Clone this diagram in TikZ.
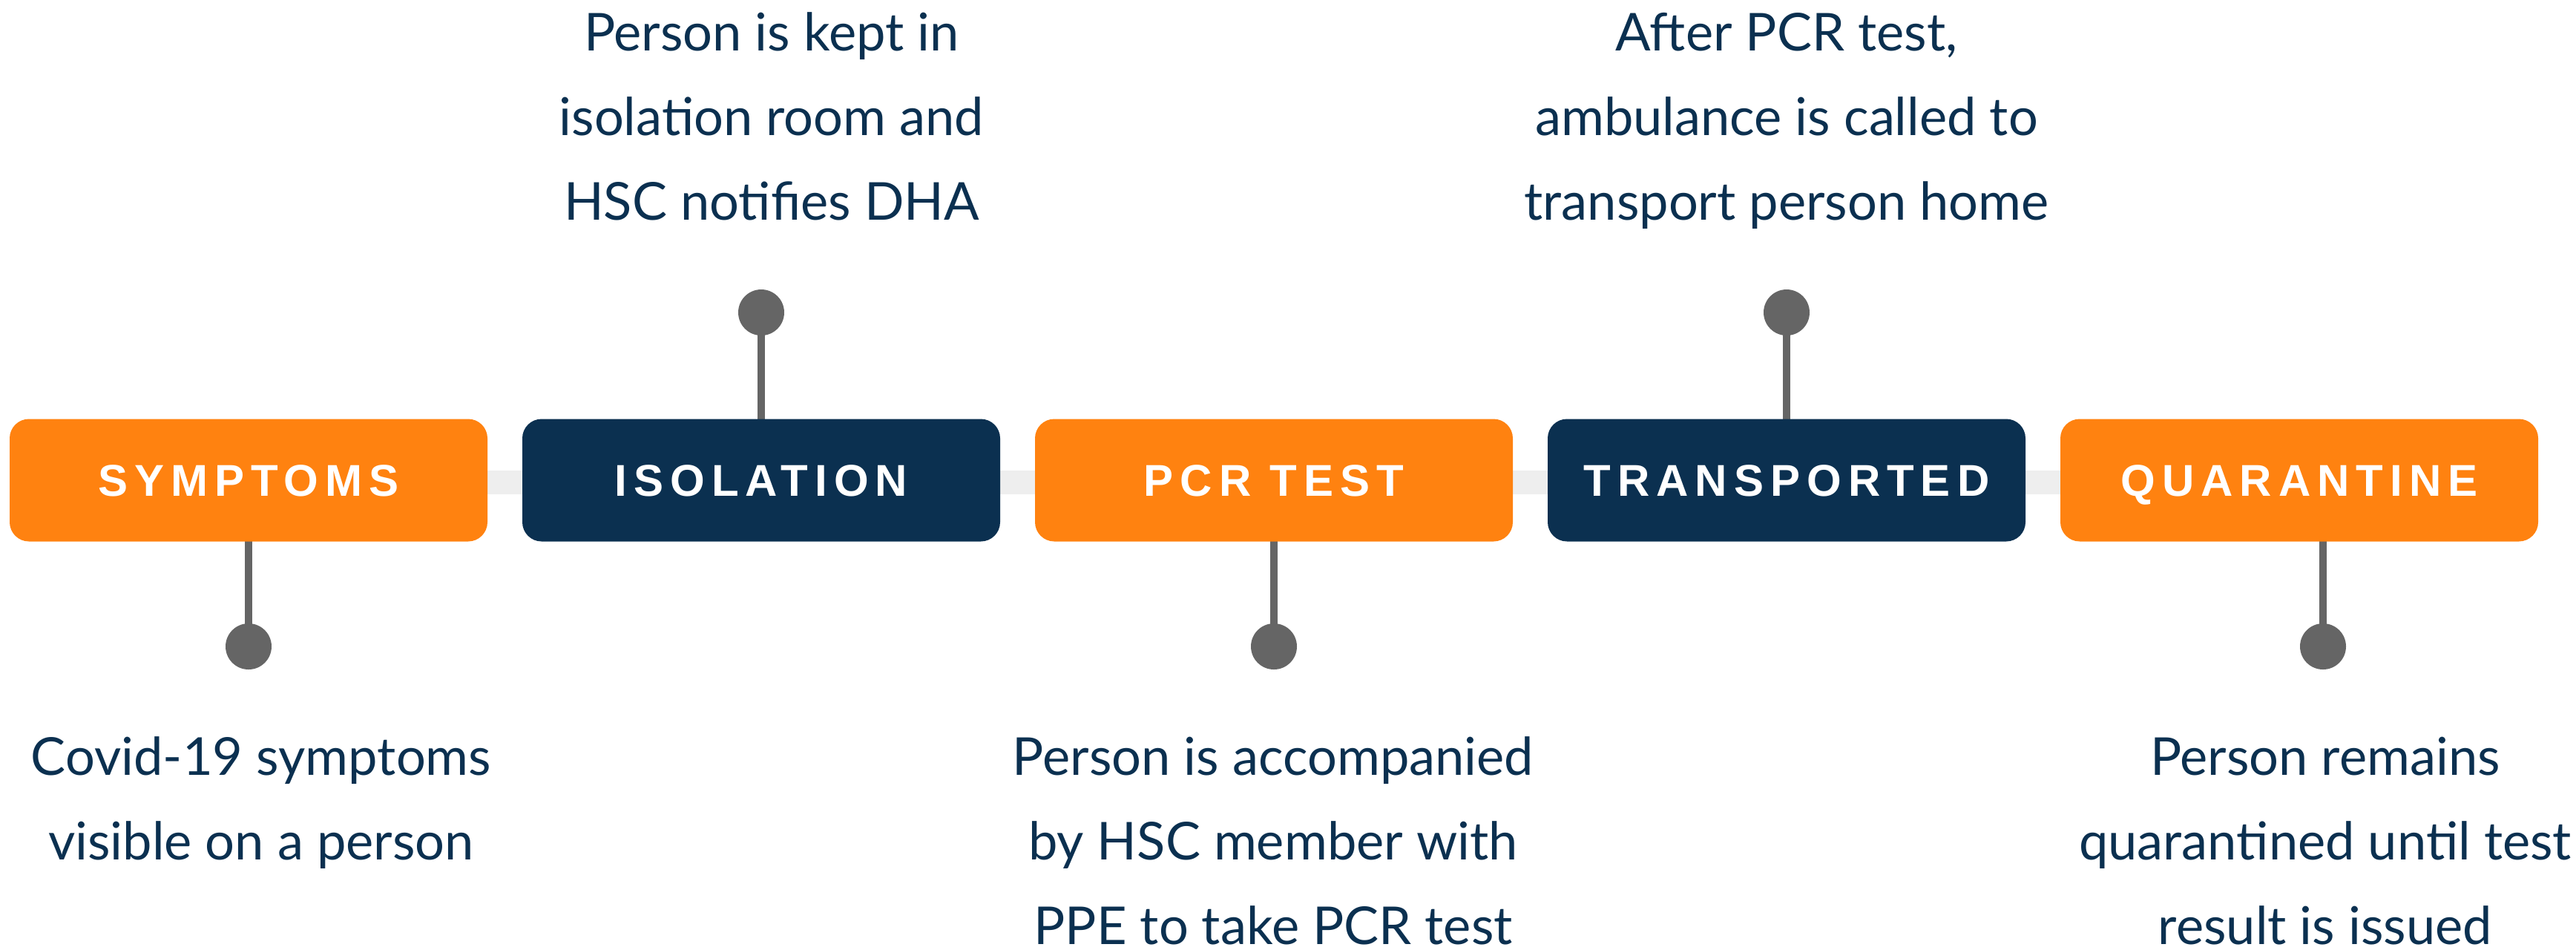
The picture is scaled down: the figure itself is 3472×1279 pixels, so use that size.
\documentclass[tikz,border=0pt]{standalone}
\usepackage{fontspec}
\setmainfont{Lato}
\newfontfamily\labelfont[LetterSpace=15]{Liberation Sans}
\definecolor{orng}{HTML}{FF8210}
\definecolor{navy}{HTML}{0B3050}
\definecolor{stemgray}{HTML}{656565}
\definecolor{linegray}{HTML}{EEEEEE}
\tikzset{
  stagebox/.style={rectangle, rounded corners=6.5pt, minimum width=161pt, minimum height=41.25pt,
     inner sep=0pt, text height=10.75pt, text depth=0pt, text=white,
     font=\labelfont\bfseries\fontsize{15}{18}\selectfont},
  orangebox/.style={stagebox, fill=orng},
  navybox/.style={stagebox, fill=navy},
  dotnode/.style={circle, fill=stemgray, minimum size=15.5pt, inner sep=0pt},
  stemline/.style={draw=stemgray, line width=2.5pt},
  desc/.style={anchor=base, align=center, text=navy, inner sep=0pt,
     font=\fontsize{17.6}{28.5}\selectfont}
}
\begin{document}
\begin{tikzpicture}[x=0.25pt, y=-0.25pt]
\useasboundingbox (0,0) rectangle (3472,1279);
% dots
\node[dotnode] (d1) at (335,871) {};
\node[dotnode] (d2) at (1026,421) {};
\node[dotnode] (d3) at (1717,871) {};
\node[dotnode] (d4) at (2408,421) {};
\node[dotnode] (d5) at (3131,871) {};
% background line
\coordinate (lineL) at (13,650);
\coordinate (lineR) at (3420,650);
\draw[linegray, line width=8pt] (lineL) -- (lineR);
% stems
\draw[stemline] (d1.center) -- (335,645);
\draw[stemline] (d2.center) -- (1026,645);
\draw[stemline] (d3.center) -- (1717,645);
\draw[stemline] (d4.center) -- (2408,645);
\draw[stemline] (d5.center) -- (3131,645);
% boxes
\node[orangebox] (b1) at (335,647) {SYMPTOMS};
\node[navybox]   (b2) at (1026,647) {ISOLATION};
\node[orangebox] (b3) at (1717,647) {PCR TEST};
\node[navybox]   (b4) at (2408,647) {TRANSPORTED};
\node[orangebox] (b5) at (3099,647) {QUARANTINE};
% descriptions (anchored at the baseline of the last line)
\node[desc] (t1) at (352,1158) {Covid-19 symptoms\\visible on a person};
\node[desc] (t2) at (1040,296) {Person is kept in\\isolation room and\\HSC notifies DHA};
\node[desc] (t3) at (1716,1272) {Person is accompanied\\by HSC member with\\PPE to take PCR test};
\node[desc] (t4) at (2408,296) {After PCR test,\\ambulance is called to\\transport person home};
\node[desc] (t5) at (3134,1272) {Person remains\\quarantined until test\\result is issued};
\end{tikzpicture}
\end{document}
